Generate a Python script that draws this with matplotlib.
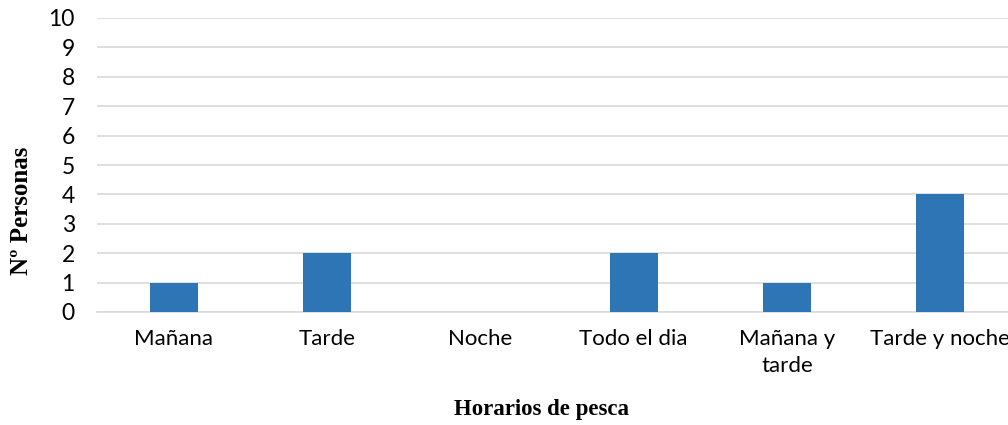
import matplotlib
matplotlib.use('Agg')
import matplotlib.pyplot as plt
import numpy as np

# data
categories = ['Mañana', 'Tarde', 'Noche', 'Todo el dia', 'Mañana y\ntarde', 'Tarde y noche']
personas = [1, 2, 0, 2, 1, 4]
y_ticks = list(range(0, 11))

fig = plt.figure(figsize=(10.08, 4.25), dpi=100)
# plot area runs slightly past the right edge, like the original
ax = fig.add_axes([97 / 1008, 113 / 425, 920 / 1008, 294 / 425])

x = np.arange(len(categories))
ax.bar(x, personas, width=0.313, color='#2E75B6', zorder=3)

ax.set_xlim(-0.5, len(categories) - 0.5)
ax.set_ylim(0, 10)
ax.set_yticks(y_ticks)
ax.set_xticks(x)
ax.set_xticklabels(categories, fontfamily='Lato', fontsize=16, linespacing=1.45)
for lbl in ax.get_yticklabels():
    lbl.set_fontfamily('Lato')
    lbl.set_fontsize(16.5)

ax.grid(axis='y', color='#D9D9D9', linewidth=1.2, zorder=0)
for s in ['top', 'right', 'left']:
    ax.spines[s].set_visible(False)
ax.spines['bottom'].set_color('#D9D9D9')
ax.spines['bottom'].set_linewidth(1.2)
ax.tick_params(axis='both', length=0, colors='black')
ax.tick_params(axis='x', pad=12)
ax.tick_params(axis='y', pad=16)

fig.text(542 / 1008, 1 - 410 / 425, 'Horarios de pesca', ha='center', va='center',
         fontfamily='Liberation Serif', fontweight='bold', fontsize=16.5)
fig.text(22 / 1008, 1 - 211 / 425, 'Nº Personas', ha='center', va='center', rotation=90,
         fontfamily='Liberation Serif', fontweight='bold', fontsize=18)

fig.savefig('out.png', dpi=100)
